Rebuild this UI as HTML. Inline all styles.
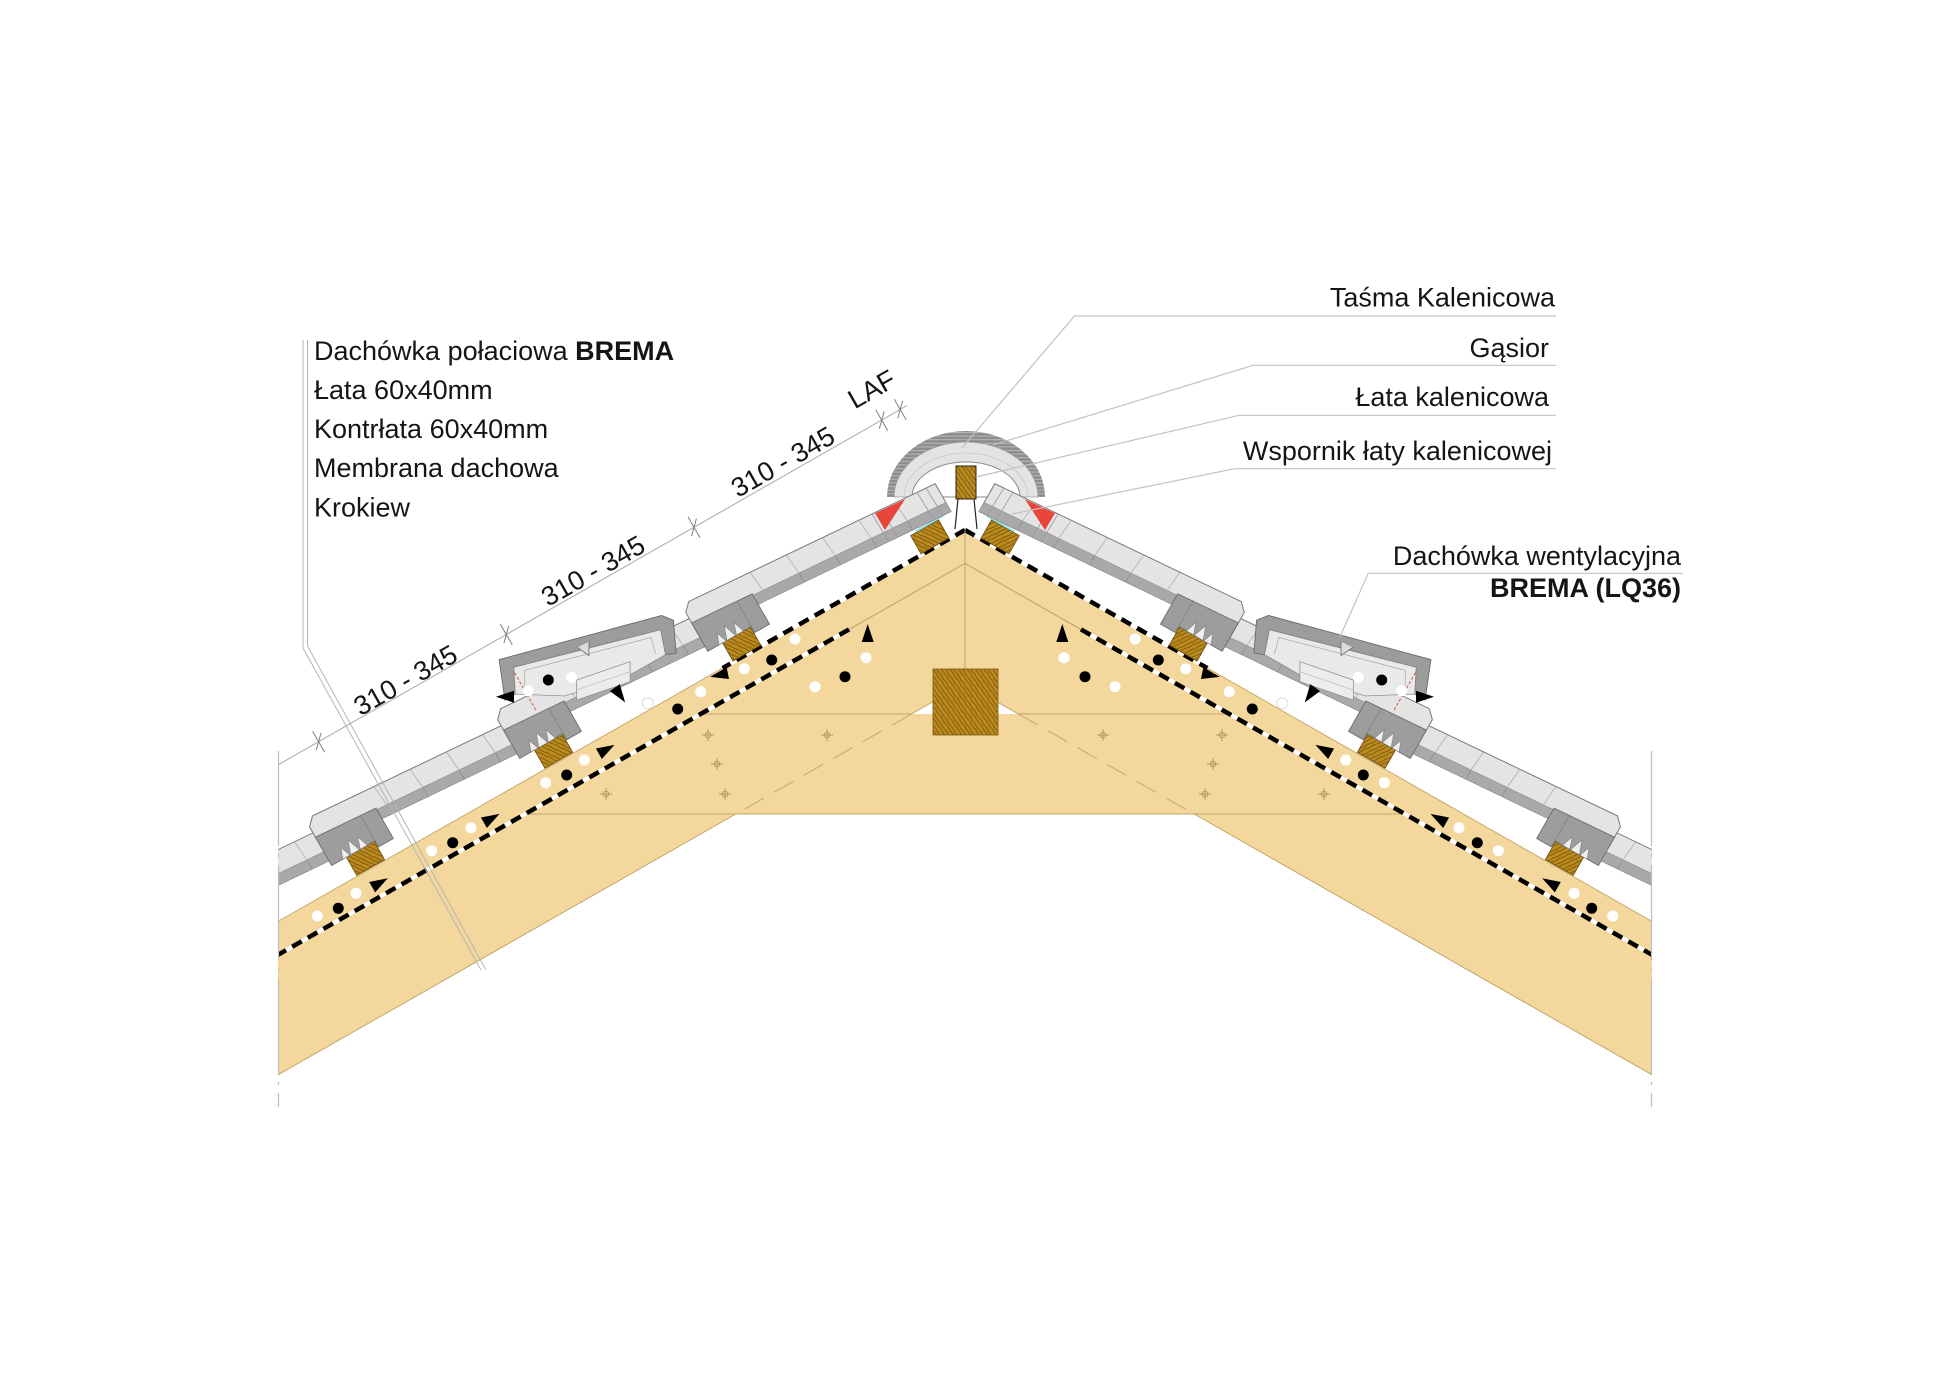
<!DOCTYPE html>
<html><head><meta charset="utf-8">
<style>
html,body{margin:0;padding:0;background:#fff;}
svg{display:block;}
text{font-family:"Liberation Sans",Arial,sans-serif;fill:#151515;font-size:27px;}
</style></head>
<body>
<svg xmlns="http://www.w3.org/2000/svg" xmlns:xlink="http://www.w3.org/1999/xlink" width="1960" height="1386" viewBox="0 0 1960 1386">
<defs>
  <pattern id="wood" patternUnits="userSpaceOnUse" width="10" height="7" patternTransform="rotate(55)">
    <rect width="10" height="7" fill="#ba8b1f"/>
    <path d="M0 1.5 C3 0.5 6 2.5 10 1.5 M0 4.6 C3 5.6 7 3.6 10 4.6" stroke="#7d560b" stroke-width="0.9" fill="none"/>
  </pattern>
  <pattern id="hatch" patternUnits="userSpaceOnUse" width="6" height="3.6">
    <rect width="6" height="3.6" fill="#8d8d8d"/>
    <rect width="6" height="1" fill="#b8b8b8"/>
  </pattern>
  <clipPath id="halfL"><rect x="278" y="0" width="687" height="1386"/></clipPath>
  <path id="arr" d="M9 0 L-9 -6 L-9 6 Z" fill="#000"/>
  <g id="bolt" stroke="#b49460" stroke-width="0.9" fill="none">
    <path d="M-6 0h12M0 -6v12"/><circle r="2.8"/>
  </g>

  <g id="tile">
    <polygon points="-247.5,23 33,42.6 33,66.6 25,74.6 -247.5,55" fill="#e4e4e4" stroke="#7a7a7a" stroke-width="1"/>
    <polygon points="-247.5,23 33,42.6 33,53 -247.5,33.4" fill="#a9a9a9"/>
    <line x1="-247.5" y1="33.4" x2="33" y2="53" stroke="#8a8a8a" stroke-width="0.6"/>
    <g stroke="#b5b5b5" stroke-width="0.9">
      <line x1="-205" y1="36" x2="-203" y2="58"/>
      <line x1="-165" y1="38.8" x2="-163" y2="60.8"/>
      <line x1="-125" y1="41.6" x2="-123" y2="63.6"/>
      <line x1="-85" y1="44.4" x2="-83" y2="66.4"/>
      <line x1="-45" y1="47.2" x2="-43" y2="69.2"/>
    </g>
    <g stroke="#8a8a8a" stroke-width="0.7">
      <line x1="-205" y1="26" x2="-205" y2="36"/>
      <line x1="-165" y1="28.8" x2="-165" y2="38.8"/>
      <line x1="-125" y1="31.6" x2="-125" y2="41.6"/>
      <line x1="-85" y1="34.4" x2="-85" y2="44.4"/>
    </g>
    <polygon points="-34,15 -17,15 -17,22 33,22 33,54.6 -34,49.9" fill="#9d9d9d" stroke="#6c6c6c" stroke-width="0.9"/>
    <line x1="-17" y1="22" x2="-17" y2="50.5" stroke="#7a7a7a" stroke-width="0.6"/>
    <path d="M-8,22 L-4,34 L0,22 Z M1,22 L6,36 L11,22 Z M12,22 L16,33 L20,22 Z" fill="#eeeeee" stroke="#777" stroke-width="0.5"/>
  </g>

  <g id="side" clip-path="url(#halfL)">
    <g transform="matrix(-0.8688 0.495 -0.495 -0.8688 965 530)">
      <rect x="-100" y="-133.5" width="1200" height="133.5" fill="#f3d79c"/>
    </g>
    <polygon points="700.8,714 965,714 965,814 525.3,814" fill="#f3d79c"/>
    <line x1="700.8" y1="714" x2="911.5" y2="714" stroke="#c4a66c" stroke-width="1"/>
    <line x1="525.3" y1="814" x2="965" y2="814" stroke="#c4a66c" stroke-width="1"/>
    <line x1="911.5" y1="714" x2="735.9" y2="814" stroke="#c4a66c" stroke-width="1" stroke-dasharray="22 12"/>
    <line x1="965" y1="683.5" x2="911.5" y2="714" stroke="#c4a66c" stroke-width="1"/>
    <line x1="735.9" y1="814" x2="250" y2="1090.8" stroke="#c4a66c" stroke-width="1"/>
    <use xlink:href="#bolt" x="708" y="735"/>
    <use xlink:href="#bolt" x="827" y="735"/>
    <use xlink:href="#bolt" x="717" y="764"/>
    <use xlink:href="#bolt" x="725" y="794"/>
    <use xlink:href="#bolt" x="606" y="794"/>

    <g transform="matrix(-0.8688 0.495 -0.495 -0.8688 965 530)">
      <line x1="279" y1="0" x2="1100" y2="0" stroke="#c9ab70" stroke-width="1"/>
      <line x1="0" y1="-29" x2="150" y2="-29" stroke="#b99c62" stroke-width="0.9"/>
      <line x1="0" y1="0" x2="279" y2="0" stroke="#fff" stroke-width="4"/>
      <line x1="0" y1="0" x2="279" y2="0" stroke="#000" stroke-width="4.5" stroke-dasharray="11 7"/>
      <line x1="150" y1="-29" x2="1100" y2="-29" stroke="#fff" stroke-width="4"/>
      <line x1="150" y1="-29" x2="1100" y2="-29" stroke="#000" stroke-width="4.5" stroke-dasharray="11 7"/>
      <g fill="url(#wood)" stroke="#6b4a08" stroke-width="0.8">
        <rect x="18" y="1" width="32" height="21"/>
        <rect x="234.5" y="1" width="32" height="21"/>
        <rect x="451" y="1" width="32" height="21"/>
        <rect x="667.5" y="1" width="32" height="21"/>
        <rect x="884" y="1" width="32" height="21"/>
      </g>
      <line x1="12" y1="23.2" x2="44" y2="23.2" stroke="#8fe3ef" stroke-width="2"/>
      <use xlink:href="#tile" transform="translate(900,0)"/>
      <use xlink:href="#tile" transform="translate(683.5,0)"/>
      <use xlink:href="#tile" transform="translate(467,0)"/>
      <polygon points="312,36 298,66 306,76 469,118 484,80 472,80 460,104 314,64 322,40" fill="#9c9c9c" stroke="#6a6a6a" stroke-width="0.9"/>
      <polygon points="322,40 314,64 460,104 472,80 430,54 370,40" fill="#e9e9e9" stroke="#888" stroke-width="0.7"/>
      <polyline points="330,46 326,62 452,96 460,82" fill="none" stroke="#999" stroke-width="0.6"/>
      <polygon points="356.2,51.4 411.7,61.9 421.6,44.5 366.1,34" fill="#ececec" stroke="#888" stroke-width="0.7"/>
      <line x1="361" y1="42.7" x2="416.6" y2="53.2" stroke="#aaa" stroke-width="0.6"/>
      <path d="M382,89 L389,77 L395,90" fill="#dcdcdc" stroke="#666" stroke-width="0.8"/>
      <line x1="462" y1="56" x2="462" y2="100" stroke="#c85a3c" stroke-width="1" stroke-dasharray="3 2"/>
      <use xlink:href="#tile" transform="translate(250.5,0)"/>
      <line x1="12" y1="23.6" x2="13" y2="55.6" stroke="#9a9a9a" stroke-width="0.8"/>
      <line x1="22" y1="24.3" x2="23" y2="56.3" stroke="#9a9a9a" stroke-width="0.8"/>
      <line x1="62" y1="27" x2="63" y2="59" stroke="#9a9a9a" stroke-width="0.8"/>
      <line x1="72" y1="27.7" x2="73" y2="59.7" stroke="#9a9a9a" stroke-width="0.8"/>
    </g>

    <polygon points="875,513.3 905,499.3 885,530" fill="#e8453b"/>

    <g fill="#fff">
      <circle cx="795" cy="639" r="5.5"/>
      <circle cx="744.3" cy="668.7" r="5.5"/>
      <circle cx="700.7" cy="691.7" r="5.5"/>
      <circle cx="866" cy="657.7" r="5.5"/>
      <circle cx="815" cy="686.7" r="5.5"/>
      <circle cx="584.3" cy="760" r="5.5"/>
      <circle cx="545.7" cy="782.7" r="5.5"/>
      <circle cx="471" cy="827.7" r="5.5"/>
      <circle cx="431.7" cy="850.7" r="5.5"/>
      <circle cx="356" cy="893.3" r="5.5"/>
      <circle cx="317.3" cy="916" r="5.5"/>
      <circle cx="571.7" cy="677.3" r="5.5"/>
      <circle cx="528.3" cy="690.7" r="5.5"/>
    </g>
    <circle cx="647.7" cy="703.3" r="5.5" fill="#fff" stroke="#dcdcdc" stroke-width="1"/>
    <g fill="#000">
      <circle cx="771.7" cy="660" r="5.5"/>
      <circle cx="677.7" cy="709" r="5.5"/>
      <circle cx="845" cy="676.7" r="5.5"/>
      <circle cx="566.7" cy="775" r="5.5"/>
      <circle cx="452.7" cy="842.7" r="5.5"/>
      <circle cx="338.3" cy="908.3" r="5.5"/>
      <circle cx="548.3" cy="680" r="5.5"/>
    </g>
    <use xlink:href="#arr" transform="translate(867.7,633) rotate(-90)"/>
    <use xlink:href="#arr" transform="translate(719,675) rotate(168)"/>
    <use xlink:href="#arr" transform="translate(606.7,749.3) rotate(-29.7)"/>
    <use xlink:href="#arr" transform="translate(491.7,818.3) rotate(-29.7)"/>
    <use xlink:href="#arr" transform="translate(380,882.7) rotate(-29.7)"/>
    <use xlink:href="#arr" transform="translate(505,696.7) rotate(180)"/>
    <use xlink:href="#arr" transform="translate(620,695) rotate(55)"/>
  </g>
</defs>

<rect width="1960" height="1386" fill="#fff"/>

<path d="M887,497 A79,66 0 0 1 1045,497 Z" fill="url(#hatch)"/>
<path d="M894,497 A72,55 0 0 1 1038,497 Z" fill="#e3e3e3" stroke="#9a9a9a" stroke-width="0.8"/>
<path d="M904,497 A62,44 0 0 1 1028,497" fill="none" stroke="#c8c8c8" stroke-width="0.8"/>
<path d="M912,497 A54,35 0 0 1 1020,497 Z" fill="#fff" stroke="#8a8a8a" stroke-width="1"/>

<use xlink:href="#side"/>
<use xlink:href="#side" transform="translate(1930,0) scale(-1,1)"/>

<line x1="965" y1="530" x2="965" y2="669" stroke="#b8a070" stroke-width="0.9"/>
<rect x="933" y="669" width="65" height="66" fill="url(#wood)" stroke="#7a5a10" stroke-width="0.8"/>
<rect x="956" y="466" width="20" height="33" fill="url(#wood)" stroke="#2f2205" stroke-width="1"/>
<line x1="958" y1="499" x2="955" y2="529" stroke="#222" stroke-width="1.2"/>
<line x1="974" y1="499" x2="977" y2="529" stroke="#222" stroke-width="1.2"/>

<line x1="278.5" y1="751" x2="278.5" y2="1107" stroke="#bdbdbd" stroke-width="1.2" stroke-dasharray="95 8 3 8"/>
<line x1="1651.5" y1="751" x2="1651.5" y2="1107" stroke="#bdbdbd" stroke-width="1.2" stroke-dasharray="95 8 3 8"/>

<polyline points="303,340 303,648 481,970" fill="none" stroke="#b5b5b5" stroke-width="1"/>
<polyline points="307.5,340 307.5,646 486,970" fill="none" stroke="#b5b5b5" stroke-width="1"/>

<line x1="279" y1="764.3" x2="907" y2="405.6" stroke="#a8a8a8" stroke-width="1"/>
<g stroke="#808080" stroke-width="1">
  <line x1="312.6" y1="731.3" x2="324.6" y2="752.1"/><line x1="316.2" y1="750.4" x2="321" y2="733"/>
  <line x1="500.3" y1="624.1" x2="512.3" y2="644.9"/><line x1="503.9" y1="643.2" x2="508.7" y2="625.8"/>
  <line x1="688" y1="516.9" x2="700" y2="537.7"/><line x1="691.6" y1="536" x2="696.4" y2="518.6"/>
  <line x1="875.7" y1="409.7" x2="887.7" y2="430.5"/><line x1="879.3" y1="428.8" x2="884.1" y2="411.4"/>
  <line x1="894.2" y1="399.1" x2="906.2" y2="419.9"/><line x1="897.8" y1="418.2" x2="902.6" y2="400.8"/>
</g>
<text x="410" y="688.2" text-anchor="middle" transform="rotate(-29.73 410 688.2)">310 - 345</text>
<text x="597.6" y="578.9" text-anchor="middle" transform="rotate(-29.73 597.6 578.9)">310 - 345</text>
<text x="787.4" y="469.9" text-anchor="middle" transform="rotate(-29.73 787.4 469.9)">310 - 345</text>
<text x="876.3" y="397.2" text-anchor="middle" transform="rotate(-29.73 876.3 397.2)">LAF</text>

<text x="314" y="360">Dachówka połaciowa <tspan font-weight="bold">BREMA</tspan></text>
<text x="314" y="399">Łata 60x40mm</text>
<text x="314" y="438">Kontrłata 60x40mm</text>
<text x="314" y="477">Membrana dachowa</text>
<text x="314" y="516.5">Krokiew</text>

<g fill="none" stroke="#c2c2c2" stroke-width="1.2">
  <polyline points="1556,316 1074.5,316 962,448"/>
  <polyline points="1556,365.3 1253,365.3 993,445"/>
  <polyline points="1556,415.3 1239,415.3 976,477"/>
  <polyline points="1556,468.7 1234.6,468.7 1012,514"/>
  <polyline points="1683,573.3 1368.3,573.3 1340,636.7"/>
</g>
<text x="1555" y="306.5" text-anchor="end">Taśma Kalenicowa</text>
<text x="1549" y="357" text-anchor="end">Gąsior</text>
<text x="1549" y="406" text-anchor="end">Łata kalenicowa</text>
<text x="1552" y="460" text-anchor="end">Wspornik łaty kalenicowej</text>
<text x="1681" y="565" text-anchor="end">Dachówka wentylacyjna</text>
<text x="1681" y="597" text-anchor="end" font-weight="bold">BREMA (LQ36)</text>
</svg>
</body></html>
